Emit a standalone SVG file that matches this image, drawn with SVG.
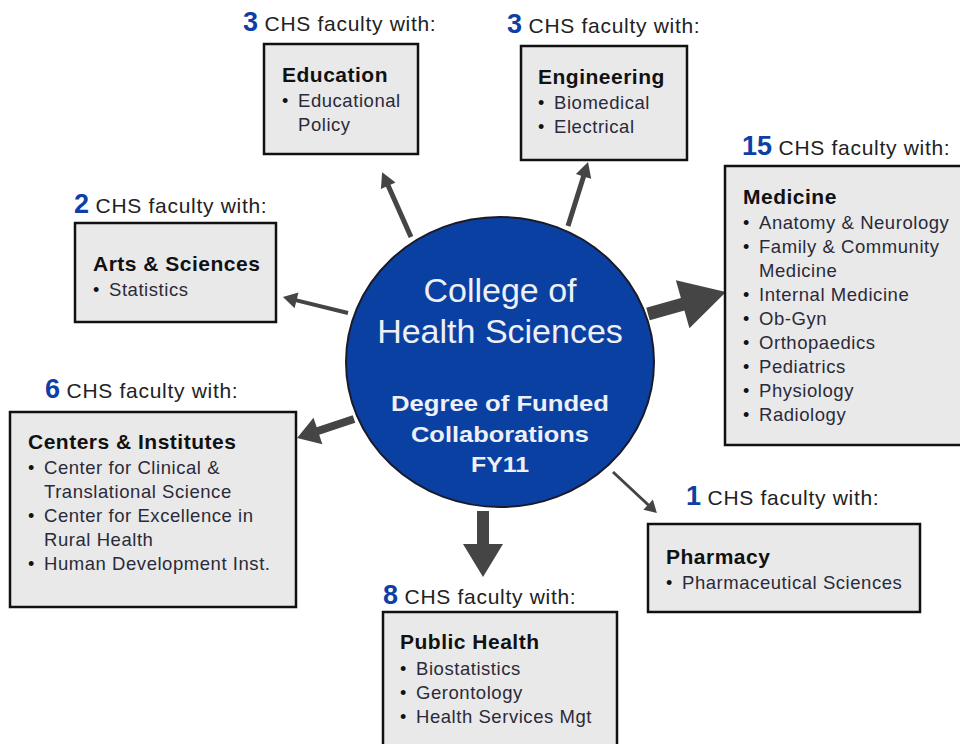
<svg xmlns="http://www.w3.org/2000/svg" width="960" height="744" viewBox="0 0 960 744">
<style>
.box{fill:#e9e9e9;stroke:#111;stroke-width:2.5}
.hd{font-family:"Liberation Sans",Arial,sans-serif;font-weight:bold;font-size:21px;letter-spacing:0.5px;fill:#111}
.it{font-family:"Liberation Sans",Arial,sans-serif;font-size:18.5px;letter-spacing:0.55px;fill:#2a2a3a}
.bu{font-family:"Liberation Sans",Arial,sans-serif;font-size:18px;fill:#111}
.lb{font-family:"Liberation Sans",Arial,sans-serif;font-size:21px;letter-spacing:0.7px;fill:#222}
.num{font-weight:bold;font-size:27px;letter-spacing:0;fill:#0d3fa6}
.arr{fill:#454545}
.t1{font-family:"Liberation Sans",Arial,sans-serif;font-size:34px;fill:#eef0f6;text-anchor:middle}
.t2{font-family:"Liberation Sans",Arial,sans-serif;font-size:22px;font-weight:bold;fill:#eef0f6;text-anchor:middle}
</style>
<rect width="960" height="744" fill="#fff"/>
<g id="connectors">
<polygon class="arr" transform="translate(411,237) rotate(-114)" points="0,-2.5 56,-2.5 56,-8 71,0 56,8 56,2.5 0,2.5"/>
<polygon class="arr" transform="translate(568,226) rotate(-72.6)" points="0,-2.5 52,-2.5 52,-8 67,0 52,8 52,2.5 0,2.5"/>
<polygon class="arr" transform="translate(648,314) rotate(-15.75)" points="0,-6.5 36,-6.5 36,-25 81,0 36,25 36,6.5 0,6.5"/>
<polygon class="arr" transform="translate(613,472) rotate(43)" points="0,-1.5 48,-1.5 48,-7 60,0 48,7 48,1.5 0,1.5"/>
<polygon class="arr" transform="translate(483,511) rotate(90)" points="0,-6 33,-6 33,-20 66,0 33,20 33,6 0,6"/>
<polygon class="arr" transform="translate(354,419) rotate(161.6)" points="0,-4 38,-4 38,-14 60,0 38,14 38,4 0,4"/>
<polygon class="arr" transform="translate(348,313) rotate(-166.2)" points="0,-2 53,-2 53,-8 67,0 53,8 53,2 0,2"/>
</g>
<g id="center">
<ellipse cx="500" cy="362" rx="154" ry="145" fill="#0b40a3" stroke="#1a1a2a" stroke-width="2"/>
<text class="t1" x="500" y="302">College of</text>
<text class="t1" x="500" y="343">Health Sciences</text>
<text class="t2" x="500" y="411" textLength="218" lengthAdjust="spacingAndGlyphs">Degree of Funded</text>
<text class="t2" x="500" y="442" textLength="178" lengthAdjust="spacingAndGlyphs">Collaborations</text>
<text class="t2" x="500" y="472" textLength="58" lengthAdjust="spacingAndGlyphs">FY11</text>
</g>
<g id="education">
<text class="lb" x="243" y="31"><tspan class="num">3</tspan> CHS faculty with:</text>
<rect class="box" x="264" y="44" width="154" height="110"/>
<text class="hd" x="282" y="82">Education</text>
<text class="bu" x="282" y="107">•</text><text class="it" x="298" y="107">Educational</text>
<text class="it" x="298" y="131">Policy</text>
</g>
<g id="engineering">
<text class="lb" x="507" y="33"><tspan class="num">3</tspan> CHS faculty with:</text>
<rect class="box" x="521" y="46" width="166" height="114"/>
<text class="hd" x="538" y="84">Engineering</text>
<text class="bu" x="538" y="109">•</text><text class="it" x="554" y="109">Biomedical</text>
<text class="bu" x="538" y="133">•</text><text class="it" x="554" y="133">Electrical</text>
</g>
<g id="medicine">
<text class="lb" x="742" y="155"><tspan class="num">15</tspan> CHS faculty with:</text>
<rect class="box" x="725" y="166" width="250" height="279"/>
<text class="hd" x="743" y="204">Medicine</text>
<text class="bu" x="743" y="229">•</text><text class="it" x="759" y="229">Anatomy &amp; Neurology</text>
<text class="bu" x="743" y="253">•</text><text class="it" x="759" y="253">Family &amp; Community</text>
<text class="it" x="759" y="277">Medicine</text>
<text class="bu" x="743" y="301">•</text><text class="it" x="759" y="301">Internal Medicine</text>
<text class="bu" x="743" y="325">•</text><text class="it" x="759" y="325">Ob-Gyn</text>
<text class="bu" x="743" y="349">•</text><text class="it" x="759" y="349">Orthopaedics</text>
<text class="bu" x="743" y="373">•</text><text class="it" x="759" y="373">Pediatrics</text>
<text class="bu" x="743" y="397">•</text><text class="it" x="759" y="397">Physiology</text>
<text class="bu" x="743" y="421">•</text><text class="it" x="759" y="421">Radiology</text>
</g>
<g id="arts">
<text class="lb" x="74" y="213"><tspan class="num">2</tspan> CHS faculty with:</text>
<rect class="box" x="75" y="223" width="201" height="99"/>
<text class="hd" x="93" y="271">Arts &amp; Sciences</text>
<text class="bu" x="93" y="296">•</text><text class="it" x="109" y="296">Statistics</text>
</g>
<g id="centers">
<text class="lb" x="45" y="398"><tspan class="num">6</tspan> CHS faculty with:</text>
<rect class="box" x="10" y="412" width="286" height="195"/>
<text class="hd" x="28" y="449">Centers &amp; Institutes</text>
<text class="bu" x="28" y="474">•</text><text class="it" x="44" y="474">Center for Clinical &amp;</text>
<text class="it" x="44" y="498">Translational Science</text>
<text class="bu" x="28" y="522">•</text><text class="it" x="44" y="522">Center for Excellence in</text>
<text class="it" x="44" y="546">Rural Health</text>
<text class="bu" x="28" y="570">•</text><text class="it" x="44" y="570">Human Development Inst.</text>
</g>
<g id="pharmacy">
<text class="lb" x="686" y="505"><tspan class="num">1</tspan> CHS faculty with:</text>
<rect class="box" x="648" y="524" width="272" height="88"/>
<text class="hd" x="666" y="564">Pharmacy</text>
<text class="bu" x="666" y="589">•</text><text class="it" x="682" y="589">Pharmaceutical Sciences</text>
</g>
<g id="public-health">
<text class="lb" x="383" y="604"><tspan class="num">8</tspan> CHS faculty with:</text>
<rect class="box" x="383" y="612" width="234" height="150"/>
<text class="hd" x="400" y="649">Public Health</text>
<text class="bu" x="400" y="675">•</text><text class="it" x="416" y="675">Biostatistics</text>
<text class="bu" x="400" y="699">•</text><text class="it" x="416" y="699">Gerontology</text>
<text class="bu" x="400" y="723">•</text><text class="it" x="416" y="723">Health Services Mgt</text>
</g>
</svg>
